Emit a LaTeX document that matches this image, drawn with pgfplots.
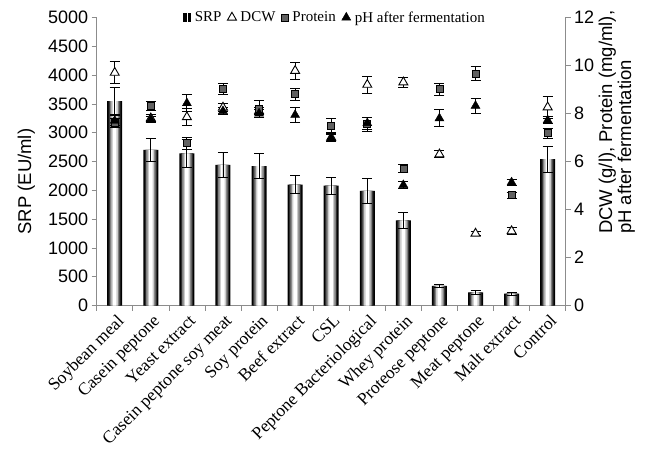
\documentclass[border=0pt]{standalone}
\usepackage{fontspec}
\setmainfont{Liberation Serif}
\newfontfamily\arial{Liberation Sans}
\usepackage{pgfplots}
\usepackage{pgfplotstable}
\pgfplotsset{compat=1.18}

\pgfplotstableread{
x y e
0 3550 240
1 2700 200
2 2640 250
3 2440 220
4 2420 215
5 2100 155
6 2080 150
7 1990 215
8 1480 140
9 340 25
10 230 30
11 205 25
12 2540 230
}\srp
\pgfplotstableread{
x y e
0 9.70 0.45
1 7.80 0.15
2 7.85 0.35
3 8.25 0.15
4 8.10 0.15
5 9.78 0.35
6 7.00 0.15
7 9.20 0.35
8 9.30 0.20
9 6.30 0.15
10 3.00 0.10
11 3.10 0.15
12 8.26 0.45
}\dcw
\pgfplotstableread{
x y e
0 7.60 0.20
1 8.32 0.20
2 6.76 0.25
3 9.02 0.22
4 8.20 0.35
5 8.80 0.25
6 7.50 0.28
7 7.55 0.30
8 5.71 0.15
9 9.02 0.25
10 9.66 0.30
11 4.60 0.12
12 7.18 0.20
}\protein
\pgfplotstableread{
x y e
0 7.70 0.20
1 7.75 0.12
2 8.43 0.35
3 8.10 0.15
4 8.00 0.15
5 7.94 0.30
6 6.97 0.15
7 7.60 0.25
8 5.02 0.15
9 7.80 0.35
10 8.32 0.30
11 5.13 0.12
12 7.72 0.15
}\ph

\begin{document}
\begin{tikzpicture}
\useasboundingbox (-96.7pt,-144.5pt) rectangle (548.3pt,305.5pt);
\begin{axis}[
  at={(0,0)}, anchor=south west,
  scale only axis, width=469pt, height=288pt,
  xmin=-0.5, xmax=12.5, ymin=0, ymax=5000,
  axis x line*=bottom, axis y line*=left,
  ytick={0,500,...,5000},
  xtick={0,...,12},
  xticklabels={Soybean meal,Casein peptone,Yeast extract,Casein peptone soy meat,Soy protein,Beef extract,CSL,Peptone Bacteriological,Whey protein,Proteose peptone,Meat peptone,Malt extract,Control},
  minor xtick={-0.5,0.5,...,12.5},
  major x tick style={draw=none},
  tick align=outside, major tick length=5pt, minor tick length=5pt,
  axis line style={black!45, line width=0.6pt},
  tick style={black!45, line width=0.6pt},
  x tick label style={rotate=45, anchor=north east, font=\fontsize{17.5}{18}\selectfont, inner sep=1pt, yshift=-2pt},
  y tick label style={font=\arial\fontsize{18}{18}\selectfont},
  /pgf/number format/assume math mode=true,
  /pgf/number format/1000 sep={},
  ylabel={SRP (EU/ml)},
  ylabel style={font=\arial\fontsize{18.5}{18.5}\selectfont, at={(axis description cs:-0.150,0.43)}, anchor=center},
]
\addplot[ybar, bar shift=0pt, bar width=15pt, draw=none, fill=black] table[x=x, y=y] {\srp};
\addplot[ybar, bar shift=0pt, bar width=12pt, draw=none, fill=black!82] table[x=x, y=y] {\srp};
\addplot[ybar, bar shift=0pt, bar width=9.5pt, draw=none, fill=black!50] table[x=x, y=y] {\srp};
\addplot[ybar, bar shift=0pt, bar width=6.5pt, draw=none, fill=black!20] table[x=x, y=y] {\srp};
\addplot[ybar, bar shift=0pt, bar width=3.5pt, draw=none, fill=white,
  error bars/.cd, y dir=both, y explicit,
  error bar style={black, line width=0.9pt},
  error mark options={black, line width=0.9pt, mark size=5pt, rotate=90}]
  table[x=x, y=y, y error=e] {\srp};
\end{axis}
\begin{axis}[
  at={(0,0)}, anchor=south west,
  scale only axis, width=469pt, height=288pt,
  xmin=-0.5, xmax=12.5, ymin=0, ymax=12,
  axis y line*=right, axis x line=none,
  ytick={0,2,...,12},
  tick align=outside, major tick length=5pt,
  axis line style={black!45, line width=0.6pt},
  tick style={black!45, line width=0.6pt},
  y tick label style={font=\arial\fontsize{18}{18}\selectfont},
  /pgf/number format/assume math mode=true,
  ylabel={DCW (g/l), Protein (mg/ml),\\pH after fermentation},
  ylabel style={font=\arial\fontsize{18.5}{19}\selectfont, align=left, at={(axis description cs:1.109,0.636)}, anchor=center},
  legend style={at={(axis description cs:0.508,1.0)}, anchor=center, draw=none, fill=none, font=\fontsize{15}{15}\selectfont, inner sep=1pt,
    /tikz/every odd column/.append style={column sep=2pt},
    /tikz/every even column/.append style={column sep=4pt}},
  legend columns=-1,
  error bars/error bar style={black, line width=0.9pt},
  error bars/error mark options={black, line width=0.9pt, mark size=5pt, rotate=90},
]
\addlegendimage{legend image code/.code={\fill[black] (2pt,-4pt) rectangle (4.6pt,4pt); \fill[black] (6.6pt,-4pt) rectangle (9.2pt,4pt);}}
\addlegendentry{SRP}
\addplot[only marks, mark=triangle*, mark size=5.2pt, mark options={fill=white, draw=black, line width=0.9pt},
  error bars/.cd, y dir=both, y explicit]
  table[x=x, y=y, y error=e] {\dcw};
\addlegendentry{DCW}
\addplot[only marks, mark=square*, mark size=3.5pt, mark options={fill=black!62, draw=black, line width=0.6pt},
  error bars/.cd, y dir=both, y explicit]
  table[x=x, y=y, y error=e] {\protein};
\addlegendentry{Protein}
\addplot[only marks, mark=triangle*, mark size=5.2pt, mark options={fill=black, draw=black},
  error bars/.cd, y dir=both, y explicit]
  table[x=x, y=y, y error=e] {\ph};
\addlegendentry{pH after fermentation}
\end{axis}
\end{tikzpicture}
\end{document}
